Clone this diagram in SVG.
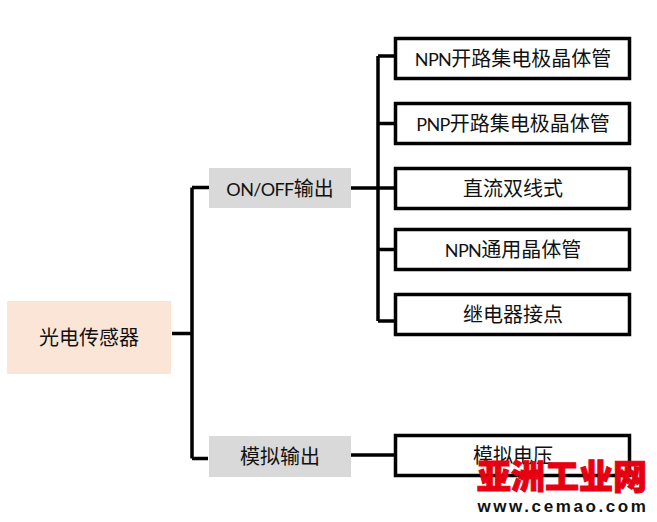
<svg xmlns="http://www.w3.org/2000/svg" width="657" height="522" viewBox="0 0 657 522">
<style>
text{font-family:"Noto Sans CJK SC","Noto Sans",sans-serif;font-size:20px;fill:#111;text-anchor:middle}
.a{font-family:"Lato","Noto Sans",sans-serif;font-size:18px;letter-spacing:-0.6px}
.l{fill:none;stroke:#000;stroke-width:3.5}
.b{fill:#fff;stroke:#000;stroke-width:3.5}
.g{fill:#d9d9d9}
</style>
<rect width="657" height="522" fill="#fff"/>
<g id="connectors">
<path class="l" d="M172 333.500H192M192 187.500V458.500M192 187.500H209M192 458.500H208"/>
<path class="l" d="M351 188H378M378 56V321M378 56H395M378 123.500H395M378 188H395M378 249.500H395M378 321H395"/>
<path class="l" d="M350 455H395"/>
</g>
<g id="n-root"><rect x="7" y="301" width="164" height="73" fill="#fbe5d6"/><text x="89" y="345">光电传感器</text></g>
<g id="n-onoff"><rect class="g" x="209" y="168" width="142" height="40"/><text x="280" y="196"><tspan class="a">ON/OFF</tspan>输出</text></g>
<g id="n-analog"><rect class="g" x="209" y="436" width="142" height="41"/><text x="280" y="464">模拟输出</text></g>
<g id="n-npn-oc"><rect class="b" x="395.500" y="38.500" width="234" height="40"/><text x="513" y="66"><tspan class="a">NPN</tspan>开路集电极晶体管</text></g>
<g id="n-pnp-oc"><rect class="b" x="395.500" y="103.500" width="234" height="40"/><text x="513" y="131"><tspan class="a">PNP</tspan>开路集电极晶体管</text></g>
<g id="n-dc"><rect class="b" x="395.500" y="168.500" width="234" height="40"/><text x="513" y="196">直流双线式</text></g>
<g id="n-npn"><rect class="b" x="395.500" y="229.500" width="234" height="40"/><text x="513" y="257"><tspan class="a">NPN</tspan>通用晶体管</text></g>
<g id="n-relay"><rect class="b" x="395.500" y="294.500" width="234" height="40"/><text x="513" y="322">继电器接点</text></g>
<g id="n-voltage"><rect class="b" x="395.500" y="435.500" width="234" height="40"/><text x="513" y="463">模拟电压</text></g>
<g id="watermark">
<text x="562" y="489" style="font-size:34px;font-weight:900;fill:#e60012;stroke:#e60012;stroke-width:1">亚洲工业网</text>
<text x="563" y="512" style="font-family:'Liberation Sans',sans-serif;font-size:17px;font-weight:700;letter-spacing:2.6px;fill:#111">www.cemao.com</text>
</g>
</svg>
